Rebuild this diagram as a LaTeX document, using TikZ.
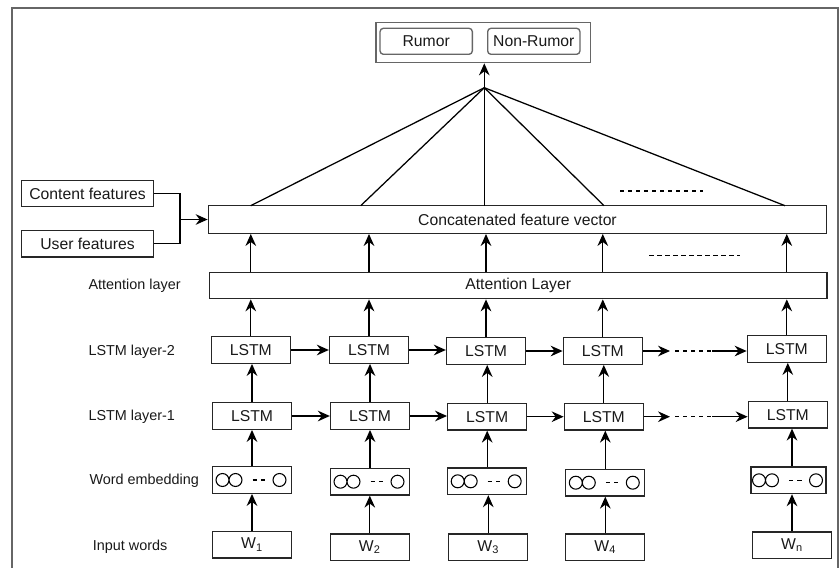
\documentclass[tikz,border=0pt]{standalone}
\usepackage{fontspec}
\setmainfont{Liberation Sans}
\usetikzlibrary{arrows.meta,calc}
\begin{document}
\begin{tikzpicture}[x=0.75pt,y=-0.75pt,
  font=\fontsize{11.8}{13}\selectfont,
  bx/.style={draw=black!85, line width=1pt, inner sep=0pt, text=black!90},
  lstm/.style={bx, minimum width=59.25pt, minimum height=19.9pt},
  lbl/.style={anchor=west, inner sep=0pt, font=\fontsize{10.8}{13}\selectfont, text=black!90},
  arr/.style={line width=0.95pt, -{Stealth[length=9pt,width=8pt,inset=3pt]}},
  ln/.style={line width=0.95pt},
  dsh/.style={line width=0.95pt, dash pattern=on 3.3pt off 2.7pt},
  gbox/.style={draw=black!60, line width=1pt, inner sep=0pt, text=black!90},
]
\useasboundingbox (0,0) rectangle (840,568);
\draw[draw=black!60, line width=1.1pt] (12,580) -- (12,8) -- (838,8) -- (838,580);

% output
\node[gbox, minimum width=161pt, minimum height=30pt] (out) at (483.3,42.7) {};
\node[gbox, rounded corners=2.5pt, minimum width=69.2pt, minimum height=19.5pt] (rum) at (426.2,41.3) {Rumor};
\node[gbox, rounded corners=2.5pt, minimum width=69.2pt, minimum height=19.5pt] (nrum) at (533.8,41.3) {Non-Rumor};

% side features
\node[bx, minimum width=98.7pt, minimum height=19.5pt] (cf) at (87.5,193.8) {Content features};
\node[bx, minimum width=98.7pt, minimum height=19.7pt] (uf) at (87.5,243.8) {User features};

% layers
\node[bx, minimum width=463.8pt, minimum height=20.7pt] (cat) at (517.5,219.5) {Concatenated feature vector};
\node[bx, minimum width=463.3pt, minimum height=19.5pt] (att) at (518.2,285.7) {Attention Layer};

% labels
\node[lbl] (lab1) at (88.3,286) {Attention layer};
\node[lbl] (lab2) at (88.3,351.5) {LSTM layer-2};
\node[lbl] (lab3) at (88.3,416.7) {LSTM layer-1};
\node[lbl] (lab4) at (89.3,481) {Word embedding};
\node[lbl] (lab5) at (92.7,546.7) {Input words};

% LSTM layer 2
\node[lstm] (L2a) at (250.8,350) {LSTM};
\node[lstm] (L2b) at (369,350) {LSTM};
\node[lstm] (L2c) at (486,351) {LSTM};
\node[lstm] (L2d) at (602.8,351) {LSTM};
\node[lstm] (L2n) at (786.8,349) {LSTM};
% LSTM layer 1
\node[lstm] (L1a) at (252,416) {LSTM};
\node[lstm] (L1b) at (370,416) {LSTM};
\node[lstm] (L1c) at (487.2,416.7) {LSTM};
\node[lstm] (L1d) at (603.8,416.7) {LSTM};
\node[lstm] (L1n) at (787.8,414.7) {LSTM};
% embeddings
\node[lstm] (Ea) at (252,480) {};
\node[lstm] (Eb) at (370,481.7) {};
\node[lstm] (Ec) at (487.2,481.3) {};
\node[lstm] (Ed) at (605.3,482.7) {};
\node[lstm, minimum width=56.25pt] (En) at (788.5,480.3) {};
% words
\node[lstm] (Wa) at (252,544.7) {W\textsubscript{1}};
\node[lstm] (Wb) at (369.8,547.3) {W\textsubscript{2}};
\node[lstm] (Wc) at (488.3,547.3) {W\textsubscript{3}};
\node[lstm] (Wd) at (605.3,547.3) {W\textsubscript{4}};
\node[lstm] (Wn) at (792,545.3) {W\textsubscript{n}};

% embedding content
\foreach \n in {Ea,Eb,Ec,Ed,En}{
  \begin{scope}[shift={(\n.center)}]
    \draw[line width=0.8pt] (-29.5,0) circle[radius=4.85pt] (-16.5,0) circle[radius=4.85pt] (27.5,0) circle[radius=4.85pt];
    \draw[line width=0.9pt] (0.5,0) -- (4.8,0) (8.8,0) -- (13,0);
  \end{scope}
}

% words -> embeddings -> LSTM1 -> LSTM2 -> attention -> concat
\foreach \c in {a,b,c,d,n}{
  \draw[arr] (W\c.north) -- (W\c.north |- E\c.south);
  \draw[arr] (L1\c.north) -- (L1\c.north |- L2\c.south);
  \draw[arr] (L2\c.north) -- (L2\c.north |- att.south);
  \draw[arr] (att.north -| L2\c) -- (cat.south -| L2\c);
}
\foreach \c in {a,b,c,d}{
  \draw[arr] (E\c.north) -- (E\c.north |- L1\c.south);
}
\draw[arr] (En.north -| Wn) -- (L1n.south -| Wn);

% horizontal recurrences
\foreach \p/\q in {a/b,b/c,c/d}{
  \draw[arr] (L2\p.east) -- (L2\p.east -| L2\q.west);
  \draw[arr] (L1\p.east) -- (L1\p.east -| L1\q.west);
}
\coordinate (r2a) at (670,351);
\coordinate (r2b) at (675,351);
\coordinate (r2c) at (712,351);
\draw[arr] (L2d.east) -- (r2a);
\draw[dsh] (r2b) -- (r2c);
\draw[arr] (r2c) -- (r2c -| L2n.west);
\coordinate (r1a) at (670,416.7);
\coordinate (r1b) at (675,416.7);
\coordinate (r1c) at (712,416.7);
\draw[arr] (L1d.east) -- (r1a);
\draw[dsh] (r1b) -- (r1c);
\draw[arr] (r1c) -- (r1c -| L1n.west);

% features junction
\coordinate (j) at (180,219.5);
\draw[ln] (cf.east) -| (j);
\draw[ln] (uf.east) -| (j);
\draw[arr] (j) -- (cat.west);

% fan to output
\coordinate (apex) at (484.3,87.7);
\coordinate (t1) at (250.7,205.7);
\coordinate (t2) at (360.7,205.7);
\coordinate (t3) at (484.3,205.7);
\coordinate (t4) at (604,205.7);
\coordinate (t5) at (785,205.7);
\foreach \t in {t1,t2,t3,t4,t5}{ \draw[ln] (apex) -- (\t); }
\draw[arr] (apex) -- (apex |- out.south);

% ellipsis dashes
\coordinate (d1a) at (620,191);
\coordinate (d1b) at (703.3,191);
\coordinate (d2a) at (649.3,255.3);
\coordinate (d2b) at (740,255.3);
\draw[dsh] (d1a) -- (d1b);
\draw[dsh] (d2a) -- (d2b);
\end{tikzpicture}
\end{document}
